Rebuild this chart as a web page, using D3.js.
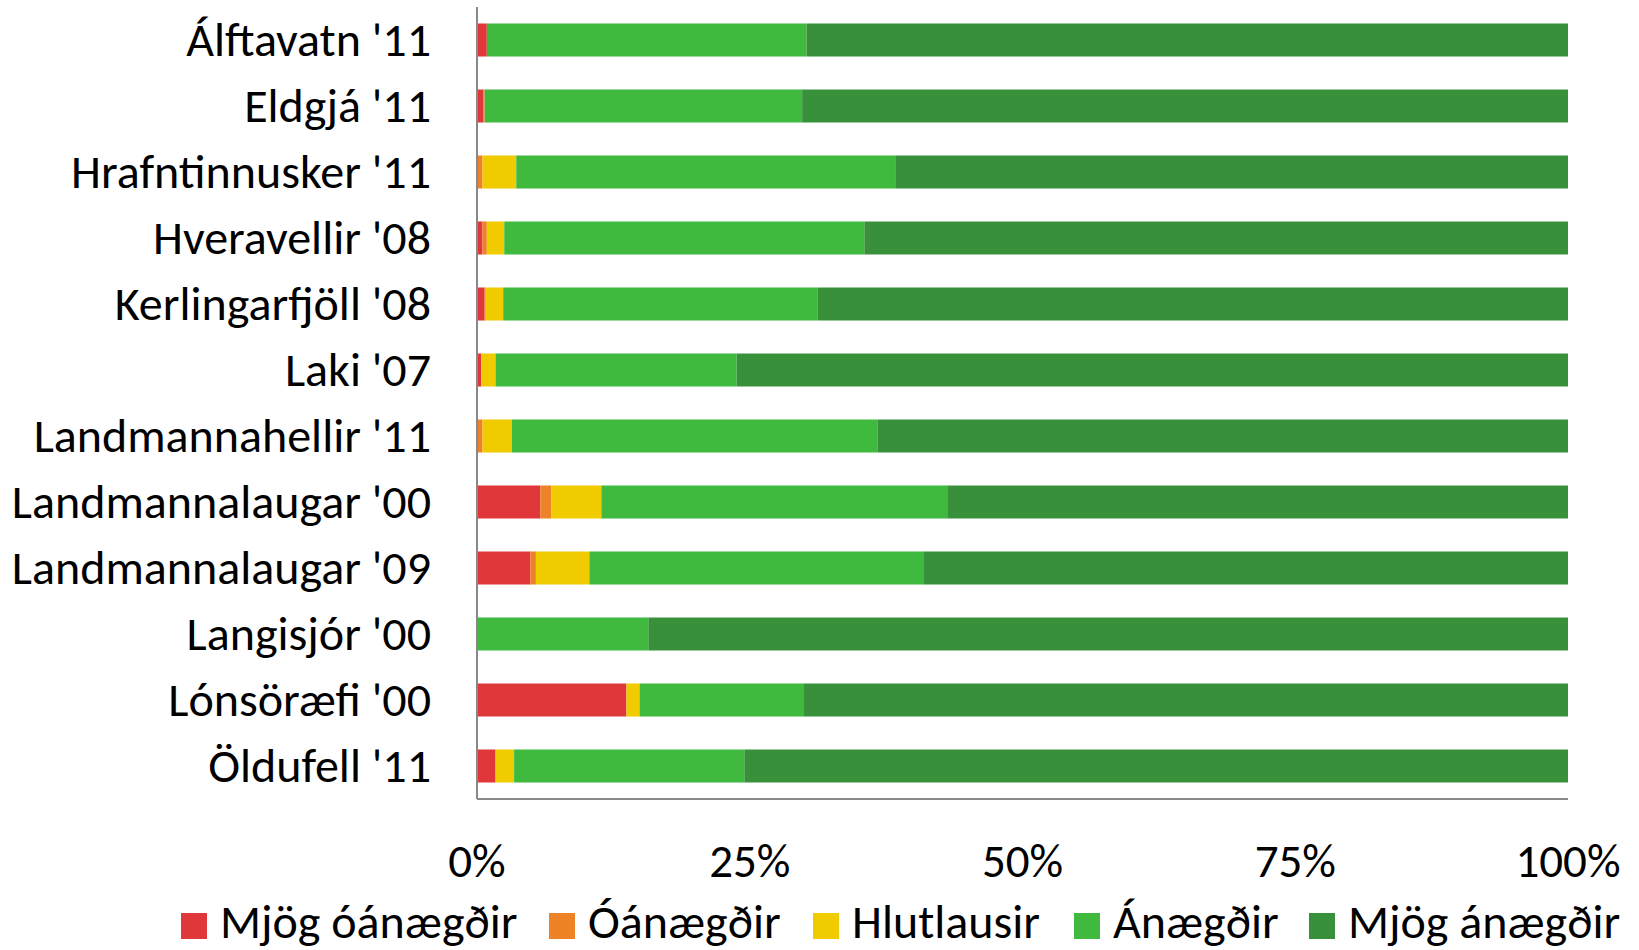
<!DOCTYPE html>
<html lang="is">
  <head>
    <meta charset="utf-8" />
    <title>Ánægja ferðamanna</title>
    <script src="https://d3js.org/d3.v7.min.js"></script>
    <style>
      body { margin: 0; background: #fff; }
      svg text { font-family: Carlito, Calibri, Lato, sans-serif; fill: #000; }
    </style>
  </head>
  <body>
    <div id="chart"></div>
    <script>
      // staðir / ár
      const places = [
        "Álftavatn '11", "Eldgjá '11", "Hrafntinnusker '11", "Hveravellir '08",
        "Kerlingarfjöll '08", "Laki '07", "Landmannahellir '11", "Landmannalaugar '00",
        "Landmannalaugar '09", "Langisjór '00", "Lónsöræfi '00", "Öldufell '11"
      ];
      const seriesNames = ["Mjög óánægðir", "Óánægðir", "Hlutlausir", "Ánægðir", "Mjög ánægðir"];
      const seriesColors = ["#e0373a", "#ee8227", "#f0cb00", "#3fba3f", "#38913a"];

      // percentages
      const veryUnhappy = [0.9, 0.6, 0, 0.5, 0.7, 0.4, 0, 5.8, 4.9, 0, 13.7, 1.7];
      const unhappy     = [0, 0.1, 0.5, 0.4, 0.1, 0, 0.5, 1.0, 0.5, 0, 0, 0];
      const neutral     = [0, 0, 3.1, 1.6, 1.6, 1.3, 2.7, 4.6, 4.9, 0, 1.2, 1.7];
      const happy       = [29.3, 29.1, 34.8, 33.0, 28.8, 22.1, 33.5, 31.7, 30.6, 15.7, 15.0, 21.1];
      const veryHappy   = [69.8, 70.2, 61.6, 64.5, 68.8, 76.2, 63.3, 56.9, 59.1, 84.3, 70.1, 75.5];
      const tickValues = [0, 25, 50, 75, 100];

      const width = 1639, height = 950;
      const marginLeft = 477, plotRight = 1568, marginTop = 7, plotBottom = 799;

      const rows = places.map((p, i) => ({
        place: p,
        [seriesNames[0]]: veryUnhappy[i],
        [seriesNames[1]]: unhappy[i],
        [seriesNames[2]]: neutral[i],
        [seriesNames[3]]: happy[i],
        [seriesNames[4]]: veryHappy[i],
      }));

      const stacked = d3.stack().keys(seriesNames)(rows);

      const x = d3.scaleLinear().domain([0, 100]).range([marginLeft, plotRight]);
      const y = d3.scaleBand().domain(places).range([marginTop, plotBottom])
        .paddingInner(0.5).paddingOuter(0.25);
      const color = d3.scaleOrdinal().domain(seriesNames).range(seriesColors);

      const svg = d3.select("#chart").append("svg")
        .attr("width", width)
        .attr("height", height);

      svg.append("g")
        .selectAll("g")
        .data(stacked)
        .join("g")
        .attr("fill", d => color(d.key))
        .selectAll("rect")
        .data(d => d)
        .join("rect")
        .attr("x", d => x(d[0]))
        .attr("y", d => y(d.data.place))
        .attr("width", d => Math.max(0, x(d[1]) - x(d[0])))
        .attr("height", y.bandwidth());

      // axis lines
      svg.append("line")
        .attr("x1", marginLeft).attr("x2", marginLeft)
        .attr("y1", marginTop).attr("y2", plotBottom)
        .attr("stroke", "#888").attr("stroke-width", 2);
      svg.append("line")
        .attr("x1", marginLeft).attr("x2", plotRight)
        .attr("y1", plotBottom).attr("y2", plotBottom)
        .attr("stroke", "#888").attr("stroke-width", 2);

      // category labels
      svg.append("g")
        .selectAll("text")
        .data(places)
        .join("text")
        .attr("x", 431)
        .attr("y", d => y(d) + y.bandwidth() / 2)
        .attr("dy", "0.33em")
        .attr("text-anchor", "end")
        .attr("font-size", 48)
        .text(d => d);

      // x tick labels
      svg.append("g")
        .selectAll("text")
        .data(tickValues)
        .join("text")
        .attr("x", d => x(d))
        .attr("y", 861)
        .attr("dy", "0.35em")
        .attr("text-anchor", "middle")
        .attr("font-size", 47)
        .text(d => d + "%");

      // legend
      const legendX = [181, 549, 813, 1074, 1309];
      const legend = svg.append("g")
        .selectAll("g")
        .data(seriesNames)
        .join("g")
        .attr("transform", (d, i) => `translate(${legendX[i]},925)`);
      legend.append("rect")
        .attr("x", 0).attr("y", -12)
        .attr("width", 26).attr("height", 26)
        .attr("fill", d => color(d));
      legend.append("text")
        .attr("x", 39)
        .attr("y", -4)
        .attr("dy", "0.35em")
        .attr("font-size", 48)
        .text(d => d);
    </script>
  </body>
</html>
